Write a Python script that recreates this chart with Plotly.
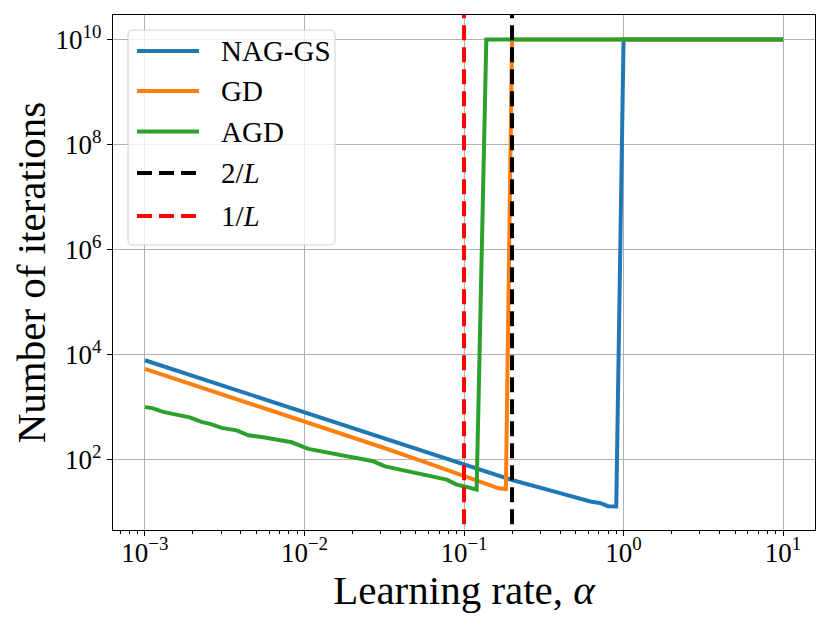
import plotly.graph_objects as go

# ---- data ----
nag_x = [0.001, 0.01, 0.05, 0.1, 0.2, 0.4, 0.62, 0.71, 0.8, 0.9, 1.0, 10.0]
nag_y = [7800, 790, 156, 80, 41, 23, 16, 15, 13, 12.8, 1e10, 1e10]

gd_x = [0.001, 0.01, 0.03, 0.06, 0.1, 0.13, 0.15, 0.165, 0.183, 0.2, 10.0]
gd_y = [5350, 537, 176, 85, 48, 37, 31, 28.5, 27.5, 1e10, 1e10]

agd_x = [0.001, 0.0011, 0.0013, 0.0015, 0.00191, 0.00226, 0.00256, 0.00303,
         0.00376, 0.00445, 0.00552, 0.00832, 0.00982, 0.01057, 0.027, 0.032,
         0.078, 0.09, 0.104, 0.12, 0.138, 10.0]
agd_y = [1000, 966, 811, 742, 639, 523, 479, 402,
         361, 290, 266, 214, 171, 160, 93, 74.5,
         41.6, 33.4, 30.2, 26.8, 1e10, 1e10]

L = 10.0
vlines = [("2/<i>L</i>", 2 / L, "black"), ("1/<i>L</i>", 1 / L, "red")]

x_ticks = [1e-3, 1e-2, 1e-1, 1e0, 1e1]
x_labels = ["10<sup>−3</sup>", "10<sup>−2</sup>", "10<sup>−1</sup>", "10<sup>0</sup>", "10<sup>1</sup>"]
y_ticks = [1e2, 1e4, 1e6, 1e8, 1e10]
y_labels = ["10<sup>2</sup>", "10<sup>4</sup>", "10<sup>6</sup>", "10<sup>8</sup>", "10<sup>10</sup>"]

series = [("NAG-GS", nag_x, nag_y, "#1f77b4"),
          ("GD", gd_x, gd_y, "#ff7f0e"),
          ("AGD", agd_x, agd_y, "#2ca02c")]

FONT = "Liberation Serif"
DASH = "15px,7px"
OFF = 8  # page body margin
W, H = 830 - OFF, 623 - OFF
ML, MR, MT, MB = 113 - OFF, 15, 15 - OFF, 93
PW, PH = W - ML - MR, H - MT - MB


def px(x):
    return (x - 113) / PW


def py(y):
    return (530 - y) / PH


fig = go.Figure()
for name, xs, ys, c in series:
    fig.add_trace(go.Scatter(x=xs, y=ys, mode="lines", name=name,
                             line=dict(color=c, width=4), showlegend=False))

for name, a, c in vlines:
    fig.add_trace(go.Scatter(x=[a, a], y=[1e-3, 1e13], mode="lines", name=name,
                             line=dict(color=c, width=4, dash=DASH), showlegend=False))

# ---- legend drawn by hand (matplotlib style) ----
x0, x1, y0, y1 = px(128), px(335), py(245), py(30)
rx, ry = 5 / PW, 5 / PH
path = (f"M {x0+rx},{y0} L {x1-rx},{y0} Q {x1},{y0} {x1},{y0+ry} "
        f"L {x1},{y1-ry} Q {x1},{y1} {x1-rx},{y1} L {x0+rx},{y1} "
        f"Q {x0},{y1} {x0},{y1-ry} L {x0},{y0+ry} Q {x0},{y0} {x0+rx},{y0} Z")
shapes = [dict(type="path", path=path, xref="paper", yref="paper",
               fillcolor="rgba(255,255,255,0.8)", line=dict(color="#d0d0d0", width=1),
               layer="above")]
annotations = []
rows = [51, 91, 131.5, 173, 216]
entries = [(n, c, "solid") for n, _, _, c in series] + [(n, c, DASH) for n, _, c in vlines]
for (name, c, d), r in zip(entries, rows):
    shapes.append(dict(type="line", xref="paper", yref="paper",
                       x0=px(137), x1=px(199), y0=py(r), y1=py(r),
                       line=dict(color=c, width=4, dash=d), layer="above"))
    annotations.append(dict(text=name, xref="paper", yref="paper", x=px(219), y=py(r),
                            xanchor="left", yanchor="middle", showarrow=False,
                            font=dict(family=FONT, size=29, color="black")))

axis_common = dict(type="log", showline=True, mirror=True, linecolor="black", linewidth=1.2,
                   ticks="outside", ticklen=5, tickwidth=1.2, tickcolor="black",
                   showgrid=True, gridcolor="#b0b0b0", gridwidth=1.1, zeroline=False,
                   automargin=False,
                   tickfont=dict(family=FONT, size=27, color="black"))

fig.update_xaxes(axis_common, range=[-3.2, 1.2], tickmode="array",
                 tickvals=x_ticks, ticktext=x_labels, ticklabelstandoff=-7,
                 minor=dict(ticks="outside", ticklen=3, tickwidth=1, tickcolor="black",
                            showgrid=False,
                            tickvals=[m * 10.0 ** e for e in range(-4, 2) for m in range(2, 10)]),
                 title=dict(text="Learning rate, <i>α</i>", standoff=0,
                            font=dict(family=FONT, size=41, color="black")))
fig.update_yaxes(axis_common, range=[0.66, 10.467], tickmode="array",
                 tickvals=y_ticks, ticktext=y_labels,
                 title=dict(text="Number of iterations", standoff=16,
                            font=dict(family=FONT, size=41, color="black")))

fig.update_layout(width=W, height=H, margin=dict(l=ML, r=MR, t=MT, b=MB),
                  plot_bgcolor="white", paper_bgcolor="white",
                  shapes=shapes, annotations=annotations, showlegend=False)

fig.write_html("out.html")
